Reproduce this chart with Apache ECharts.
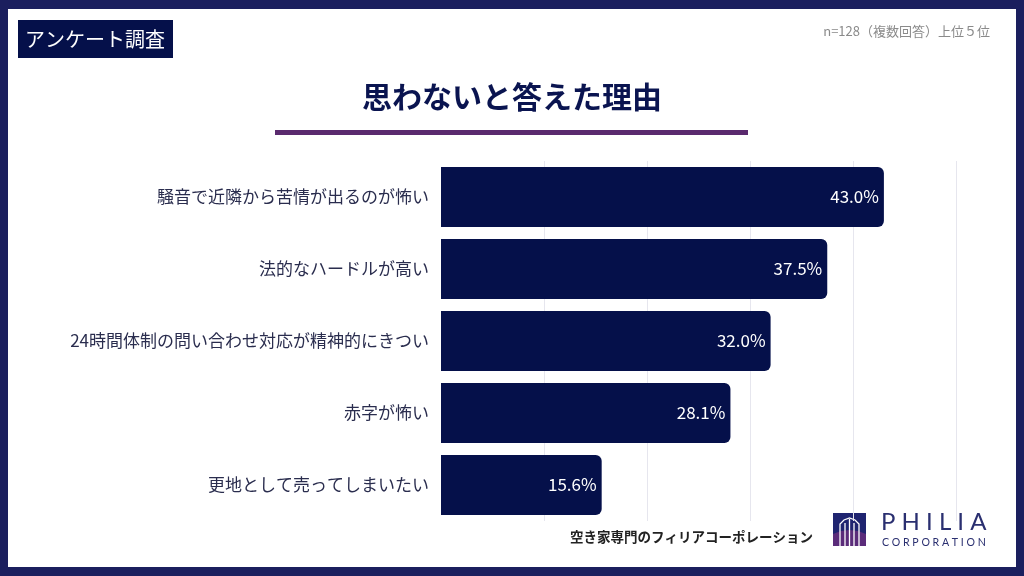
<!DOCTYPE html>
<html>
<head>
<meta charset="utf-8">
<script src="https://cdn.jsdelivr.net/npm/echarts@6/dist/echarts.min.js"></script>
<style>
  html, body { margin: 0; padding: 0; background: #fff; }
  #chart { width: 1024px; height: 576px; }
</style>
</head>
<body>
<div id="chart"></div>
<script>
// reasons, top to bottom
const reasons = [
  '騒音で近隣から苦情が出るのが怖い',
  '法的なハードルが高い',
  '24時間体制の問い合わせ対応が精神的にきつい',
  '赤字が怖い',
  '更地として売ってしまいたい',
];
const shares = [43.0, 37.5, 32.0, 28.1, 15.6];

const NAVY = '#05104a';
const FRAME = '#1b1f5e';
const PURPLE = '#5a2a6e';
const jp = '"Noto Sans CJK JP", "Noto Sans", sans-serif';

const chart = echarts.init(document.getElementById('chart'));

const logoWhite = { fill: null, stroke: '#fff', lineWidth: 1.3 };

const option = {
  backgroundColor: FRAME,
  animation: false,
  textStyle: { fontFamily: jp },
  grid: { left: 441, right: 68, top: 161, height: 360, containLabel: false },
  xAxis: {
    type: 'value',
    min: 0,
    max: 50,
    interval: 10,
    axisLabel: { show: false },
    axisLine: { show: false },
    axisTick: { show: false },
    splitLine: { showMinLine: false, lineStyle: { color: '#e6e6ee', width: 1 } },
  },
  yAxis: {
    type: 'category',
    inverse: true,
    data: reasons,
    axisLine: { show: false },
    axisTick: { show: false },
    axisLabel: { color: '#2a2d4e', fontSize: 17, margin: 12 },
  },
  series: [
    {
      type: 'bar',
      data: shares,
      barWidth: 60,
      itemStyle: { color: NAVY, borderRadius: [0, 6, 6, 0] },
      label: {
        show: true,
        position: 'insideRight',
        distance: 5,
        color: '#fff',
        fontSize: 17,
        formatter: (p) => `${p.value.toFixed(1)}%`,
      },
      z: 3,
    },
  ],
  graphic: [
    // white card inside the frame
    { type: 'rect', z: -10, shape: { x: 8, y: 9, width: 1008, height: 558 }, style: { fill: '#fff' } },
    // survey tag
    { type: 'rect', shape: { x: 18, y: 20, width: 155, height: 38 }, style: { fill: NAVY } },
    {
      type: 'text', x: 95, y: 39,
      style: { text: 'アンケート調査', fill: '#fff', font: `20px ${jp}`, align: 'center', verticalAlign: 'middle' },
    },
    {
      type: 'text', x: 990, y: 31,
      style: { text: 'n=128（複数回答）上位５位', fill: '#8a8a8a', font: `13px ${jp}`, align: 'right', verticalAlign: 'middle' },
    },
    // title + rule
    {
      type: 'text', x: 512, y: 97,
      style: { text: '思わないと答えた理由', fill: '#0a1450', font: `bold 30px ${jp}`, align: 'center', verticalAlign: 'middle' },
    },
    { type: 'rect', shape: { x: 275, y: 130, width: 473, height: 5 }, style: { fill: PURPLE } },
    // footer
    {
      type: 'text', x: 813, y: 537,
      style: { text: '空き家専門のフィリアコーポレーション', fill: '#222', font: `bold 13.5px ${jp}`, align: 'right', verticalAlign: 'middle' },
    },
    // logo mark
    { type: 'rect', shape: { x: 833, y: 513, width: 33, height: 33 }, style: { fill: '#1f2470' } },
    {
      type: 'polygon',
      shape: { points: [[833, 546], [833, 534], [841, 531], [849.5, 530], [858, 531], [866, 534], [866, 546]] },
      style: { fill: '#5b2c7a' },
    },
    {
      type: 'polyline',
      shape: { points: [[840, 546], [840, 524], [844, 520], [849.5, 518], [855, 520], [859, 524], [859, 546]] },
      style: logoWhite,
    },
    { type: 'line', shape: { x1: 845, y1: 546, x2: 845, y2: 523 }, style: logoWhite },
    { type: 'line', shape: { x1: 854, y1: 546, x2: 854, y2: 523 }, style: logoWhite },
    { type: 'line', shape: { x1: 849.5, y1: 546, x2: 849.5, y2: 519 }, style: logoWhite },
    {
      type: 'text', x: 881, y: 522,
      style: { text: 'P H I L I A', fill: '#2a2f70', font: '24px Lato, "DejaVu Sans", sans-serif', align: 'left', verticalAlign: 'middle' },
    },
    {
      type: 'text', x: 882, y: 543,
      style: { text: 'C O R P O R A T I O N', fill: '#2a2f70', font: '10.6px Lato, "DejaVu Sans", sans-serif', align: 'left', verticalAlign: 'middle' },
    },
  ],
};

chart.setOption(option);
</script>
</body>
</html>
